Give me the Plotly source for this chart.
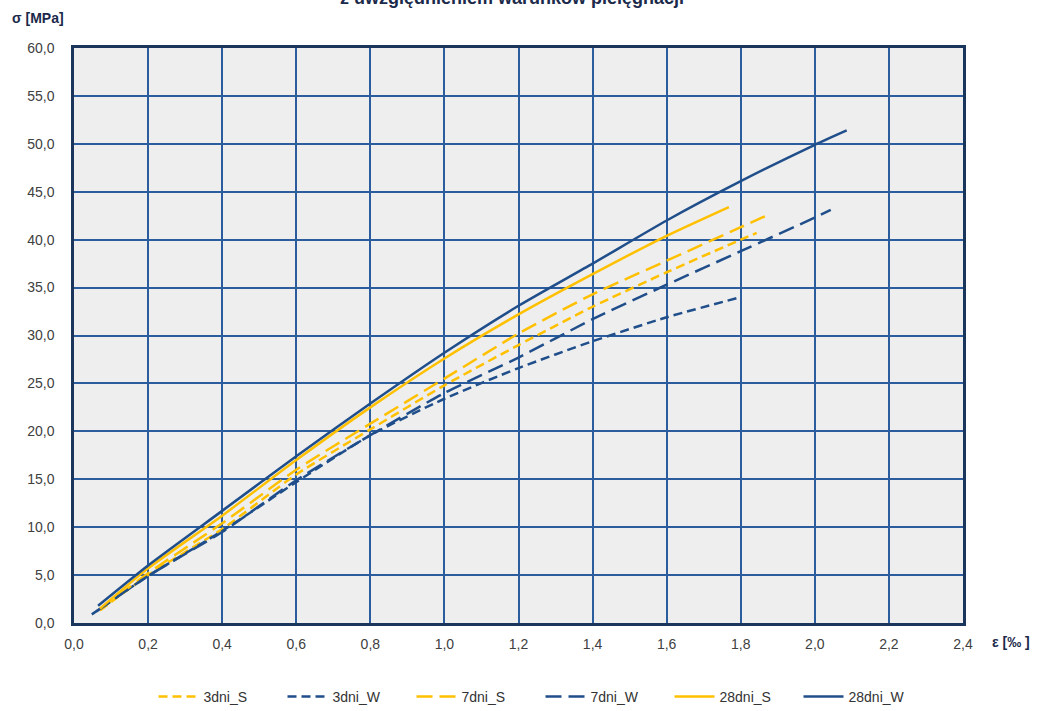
import plotly.graph_objects as go

# Stress–strain curves of concrete (strain in ‰, stress in MPa)
eps_3dni_S = [0.07, 0.2, 0.4, 0.6, 0.8, 1.0, 1.2, 1.4, 1.6, 1.8, 1.843]
sig_3dni_S = [1.3, 5.0, 9.8, 15.5, 20.2, 24.8, 29.0, 33.0, 36.6, 40.0, 40.7]

eps_3dni_W = [0.048, 0.2, 0.4, 0.6, 0.8, 1.0, 1.2, 1.4, 1.6, 1.79]
sig_3dni_W = [0.9, 4.9, 9.6, 14.7, 19.6, 23.4, 26.6, 29.4, 31.9, 33.9]

eps_7dni_S = [0.07, 0.2, 0.4, 0.6, 0.8, 1.0, 1.2, 1.4, 1.6, 1.8, 1.88]
sig_7dni_S = [1.4, 5.2, 10.4, 16.0, 20.8, 25.5, 30.2, 34.3, 37.8, 41.3, 42.7]

eps_7dni_W = [0.06, 0.2, 0.4, 0.6, 0.8, 1.0, 1.2, 1.4, 1.6, 1.8, 2.0, 2.043]
sig_7dni_W = [1.2, 4.9, 9.5, 14.9, 19.6, 24.0, 27.7, 31.7, 35.3, 38.8, 42.3, 43.1]

eps_28dni_S = [0.07, 0.2, 0.4, 0.6, 0.8, 1.0, 1.2, 1.4, 1.6, 1.768]
sig_28dni_S = [1.5, 5.7, 11.2, 17.0, 22.5, 27.6, 32.2, 36.4, 40.4, 43.4]

eps_28dni_W = [0.065, 0.2, 0.4, 0.6, 0.8, 1.0, 1.2, 1.4, 1.6, 1.8, 2.0, 2.086]
sig_28dni_W = [1.8, 6.0, 11.7, 17.4, 22.9, 28.2, 33.1, 37.5, 42.0, 46.1, 49.9, 51.4]

YELLOW = "#FFC000"
BLUE = "#1F4E8A"
GRID = "#2B5C9E"
FRAME = "#1B365D"
SHORT = "9px,5px"
LONG = "16px,7px"

series = [
    ("3dni_S", eps_3dni_S, sig_3dni_S, YELLOW, SHORT),
    ("3dni_W", eps_3dni_W, sig_3dni_W, BLUE, SHORT),
    ("7dni_S", eps_7dni_S, sig_7dni_S, YELLOW, LONG),
    ("7dni_W", eps_7dni_W, sig_7dni_W, BLUE, LONG),
    ("28dni_S", eps_28dni_S, sig_28dni_S, YELLOW, "solid"),
    ("28dni_W", eps_28dni_W, sig_28dni_W, BLUE, "solid"),
]

fig = go.Figure()
for name, x, y, color, dash in series:
    fig.add_trace(go.Scatter(
        x=x, y=y, name=name, mode="lines",
        line=dict(color=color, width=2.5, dash=dash, shape="spline", smoothing=0.6),
    ))

FONT = "Liberation Sans Narrow, Arial Narrow, Liberation Sans, Arial, sans-serif"
DARK = "#1B2A4A"

fig.update_layout(
    width=1038, height=711,
    margin=dict(l=74, r=75, t=48, b=88),
    paper_bgcolor="white",
    plot_bgcolor="#EEEEEE",
    separators=", ",
    font=dict(family=FONT, size=14, color="#404040"),
    showlegend=True,
    legend=dict(
        orientation="h", x=0.5 + 22 / 889, xanchor="center",
        yref="container", y=14 / 711, yanchor="middle",
        font=dict(family=FONT, size=14, color="#333333"),
        entrywidth=74, itemwidth=40,
        bgcolor="rgba(0,0,0,0)",
    ),
    xaxis=dict(
        range=[0, 2.4], dtick=0.2, tick0=0, tickformat=".1f",
        showgrid=True, gridcolor=GRID, gridwidth=1.6,
        showline=True, linecolor=FRAME, linewidth=2.5, mirror=True,
        zeroline=False, ticks="", ticklabelstandoff=6,
    ),
    yaxis=dict(
        range=[0, 60], dtick=5, tick0=0, tickformat=".1f",
        showgrid=True, gridcolor=GRID, gridwidth=1.6,
        showline=True, linecolor=FRAME, linewidth=2.5, mirror=True,
        zeroline=False, ticks="", ticklabelstandoff=14,
    ),
    annotations=[
        dict(text="<b>z uwzględnieniem warunków pielęgnacji</b>", xref="paper", yref="paper",
             x=0.493, y=1.0 + 50 / 575, xanchor="center", yanchor="middle", showarrow=False,
             font=dict(family="Liberation Sans, Arial, sans-serif", size=18, color=DARK)),
        dict(text="<b>σ [MPa]</b>", xref="paper", yref="paper",
             x=-0.072, y=1.052, xanchor="left", yanchor="middle", showarrow=False,
             font=dict(family=FONT, size=14, color=DARK)),
        dict(text="<b>ε [‰ ]</b>", xref="paper", yref="paper",
             x=1.03, y=-0.033, xanchor="left", yanchor="middle", showarrow=False,
             font=dict(family=FONT, size=14, color=DARK)),
    ],
)

fig.write_html("out.html")
